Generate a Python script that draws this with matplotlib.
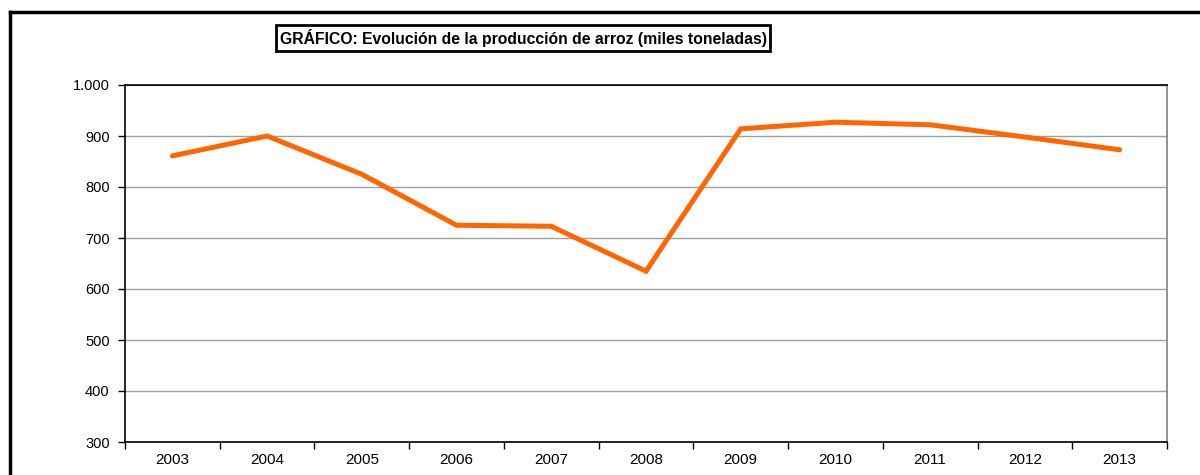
import matplotlib
matplotlib.use('Agg')
import matplotlib.pyplot as plt
from matplotlib.lines import Line2D

plt.rcParams['font.family'] = ['Liberation Sans', 'DejaVu Sans']

# Data
years = ['2003', '2004', '2005', '2006', '2007', '2008', '2009', '2010', '2011', '2012', '2013']
produccion = [861, 900, 825, 725, 723, 635, 914, 927, 922, 898, 873]

fig = plt.figure(figsize=(12, 4.75), dpi=100)
ax = fig.add_axes([125 / 1200, 33 / 475, 1042 / 1200, 357 / 475])

x = list(range(len(years)))
ax.plot(x, produccion, color='#FF6600', linewidth=3.6, solid_capstyle='round', solid_joinstyle='miter')

ax.set_xlim(-0.5, len(years) - 0.5)
ax.set_ylim(300, 1000)
ax.set_yticks(range(300, 1001, 100))
ax.set_yticklabels([f'{v:,}'.replace(',', '.') for v in range(300, 1001, 100)], fontsize=10.5)
ax.set_xticks(x)
ax.set_xticklabels(years, fontsize=11)
ax.set_xticks([i - 0.5 for i in range(len(years) + 1)], minor=True)
ax.tick_params(axis='x', which='major', length=0, pad=8)
ax.tick_params(axis='x', which='minor', length=5, direction='out', width=1)
ax.tick_params(axis='y', length=5, direction='out', width=1, pad=6)

ax.yaxis.grid(True, color='#a0a0a0', linewidth=1)
ax.set_axisbelow(True)
for side in ['left', 'bottom', 'top']:
    ax.spines[side].set_color('black')
    ax.spines[side].set_linewidth(1.2)
ax.spines['right'].set_color('#808080')
ax.spines['right'].set_linewidth(1.2)

# Title in a box
fig.text(523 / 1200, 1 - 38 / 475, 'GRÁFICO: Evolución de la producción de arroz (miles toneladas)',
         ha='center', va='center', fontsize=11.3, fontweight='bold',
         bbox=dict(boxstyle='square,pad=0.25', facecolor='white', edgecolor='black', linewidth=2))

# Outer frame (chart area border)
fig.add_artist(Line2D([10 / 1200, 10 / 1200], [0, 1 - 12 / 475], transform=fig.transFigure,
                      color='black', linewidth=2.5))
fig.add_artist(Line2D([10 / 1200, 1.0], [1 - 12 / 475, 1 - 12 / 475], transform=fig.transFigure,
                      color='black', linewidth=2.5))

plt.savefig('out.png', dpi=100)
